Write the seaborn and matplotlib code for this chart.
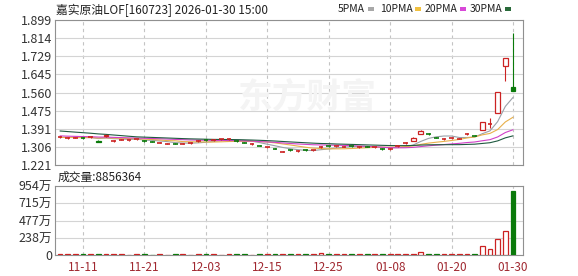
import numpy as np
import pandas as pd
import matplotlib
matplotlib.use("Agg")
import matplotlib.pyplot as plt
from matplotlib.patches import Rectangle
import seaborn as sns

# ---------------- data ----------------
title = "嘉实原油LOF[160723] 2026-01-30 15:00"
vol_title = "成交量:8856364"
tick_days = [3, 11, 19, 27, 35, 43, 51, 59]
tick_labels = ["11-11", "11-21", "12-03", "12-15", "12-25", "01-08", "01-20", "01-30"]
price_ticks = [1.221, 1.30575, 1.3905, 1.47525, 1.560, 1.64475, 1.7295, 1.81425, 1.899]
price_tick_labels = ["1.221", "1.306", "1.391", "1.475", "1.560", "1.645", "1.729", "1.814", "1.899"]
vol_ticks = [0, 2385000, 4770000, 7155000, 9540000]
vol_tick_labels = ["0", "238万", "477万", "715万", "954万"]

prior_closes = [1.430, 1.428, 1.425, 1.427, 1.424, 1.426, 1.423, 1.425, 1.427, 1.425,
                1.372, 1.368, 1.366, 1.363, 1.362, 1.364, 1.361, 1.360, 1.362, 1.362,
                1.352, 1.350, 1.349, 1.351, 1.350, 1.348, 1.350, 1.349, 1.351]

opens = [1.349, 1.346, 1.347, 1.348, 1.349, 1.333, 1.355, 1.331, 1.338, 1.336,
         1.340, 1.334, 1.331, 1.324, 1.320, 1.322, 1.320, 1.323, 1.332, 1.338,
         1.336, 1.340, 1.341, 1.334, 1.326, 1.318, 1.312, 1.303, 1.298, 1.282,
         1.292, 1.284, 1.292, 1.289, 1.302, 1.309, 1.308, 1.306, 1.310, 1.304,
         1.307, 1.302, 1.298, 1.293, 1.307, 1.321, 1.333, 1.366, 1.368, 1.349,
         1.341, 1.345, 1.343, 1.364, 1.359, 1.385, 1.411, 1.464, 1.684, 1.585]
closes = [1.352, 1.347, 1.349, 1.346, 1.352, 1.329, 1.360, 1.333, 1.340, 1.338,
          1.342, 1.332, 1.329, 1.326, 1.322, 1.320, 1.322, 1.325, 1.334, 1.336,
          1.338, 1.342, 1.343, 1.332, 1.324, 1.320, 1.310, 1.305, 1.296, 1.285,
          1.290, 1.287, 1.290, 1.291, 1.305, 1.307, 1.310, 1.308, 1.308, 1.306,
          1.305, 1.304, 1.296, 1.296, 1.310, 1.324, 1.347, 1.380, 1.366, 1.347,
          1.343, 1.347, 1.345, 1.366, 1.357, 1.422, 1.413, 1.562, 1.721, 1.567]
highs = [1.355, 1.350, 1.351, 1.350, 1.356, 1.336, 1.363, 1.336, 1.342, 1.340,
         1.344, 1.336, 1.333, 1.328, 1.324, 1.324, 1.324, 1.327, 1.336, 1.340,
         1.340, 1.344, 1.346, 1.336, 1.328, 1.322, 1.314, 1.307, 1.300, 1.288,
         1.294, 1.292, 1.294, 1.293, 1.308, 1.311, 1.312, 1.310, 1.312, 1.308,
         1.309, 1.306, 1.300, 1.300, 1.313, 1.330, 1.350, 1.383, 1.372, 1.351,
         1.345, 1.349, 1.347, 1.369, 1.361, 1.424, 1.440, 1.564, 1.723, 1.838]
lows = [1.347, 1.344, 1.345, 1.344, 1.347, 1.327, 1.352, 1.329, 1.336, 1.334,
        1.338, 1.330, 1.327, 1.322, 1.318, 1.318, 1.318, 1.321, 1.330, 1.334,
        1.334, 1.338, 1.339, 1.330, 1.322, 1.316, 1.308, 1.301, 1.294, 1.280,
        1.288, 1.282, 1.288, 1.287, 1.300, 1.305, 1.306, 1.304, 1.306, 1.302,
        1.303, 1.300, 1.293, 1.290, 1.305, 1.318, 1.331, 1.364, 1.362, 1.345,
        1.339, 1.343, 1.341, 1.362, 1.355, 1.383, 1.392, 1.462, 1.614, 1.565]
volumes = [8, 7, 8, 9, 10, 16, 18, 8, 7, 6,
           7, 8, 6, 7, 6, 7, 8, 6, 7, 8,
           7, 6, 7, 8, 7, 6, 7, 8, 7, 8,
           9, 8, 7, 8, 28, 14, 9, 8, 7, 12,
           14, 8, 7, 8, 15, 16, 14, 42, 14, 8,
           7, 7, 8, 12, 18, 126, 84, 224, 337, 885.6364]  # 万

ma_specs = [("5PMA", 5, "#9aa0a8", "#a8a8a8"),
            ("10PMA", 10, "#e8b04a", "#f0c040"),
            ("20PMA", 20, "#d040c8", "#d848d8"),
            ("30PMA", 30, "#1f5a40", "#2a6a3a")]

RED = "#cc2222"
GREEN = "#0a7a0a"

# ---------------- build ----------------
n = len(closes)
days = np.arange(n)
df = pd.DataFrame({"day": days, "open": opens, "close": closes,
                   "high": highs, "low": lows, "vol": np.array(volumes) * 1e4})
allc = pd.Series(prior_closes + closes)
for name, w, col, _ in ma_specs:
    df[name] = allc.rolling(w, min_periods=1).mean().iloc[len(prior_closes):].values

sns.set_theme(style="white")
plt.rcParams["font.family"] = ["Noto Sans CJK SC", "DejaVu Sans"]

W, H = 578, 276
fig = plt.figure(figsize=(W / 100, H / 100), dpi=100)


def fx(p):
    return p / W


def fy(p):
    return 1 - p / H


ax = fig.add_axes([fx(55), fy(165), fx(523) - fx(55), fy(20) - fy(165)])
axv = fig.add_axes([fx(55), fy(255), fx(523) - fx(55), fy(186) - fy(255)])

xlim = (-0.65, n + 0.3)
edge = "#909090"
for a in (ax, axv):
    a.set_xlim(*xlim)
    for s in a.spines.values():
        s.set_color(edge)
        s.set_linewidth(0.8)
        s.set_visible(True)
    a.set_axisbelow(True)
    a.set_xticks(tick_days)
    a.grid(axis="y", color="#d4d4d4", linewidth=0.8, linestyle="-")
    a.grid(axis="x", color="#c4c4c4", linewidth=0.8, linestyle=(0, (3, 3)))
    a.tick_params(length=0, labelsize=9, colors="#333333", pad=2)

# watermark
ax.text(fx(238), fy(97), "东方财富", transform=fig.transFigure, fontsize=25,
        fontweight="bold", color="#f4f4f4", va="center", ha="left", zorder=0.6)

# moving averages
for name, w, col, _ in ma_specs:
    sns.lineplot(data=df, x="day", y=name, ax=ax, color=col, linewidth=0.8,
                 legend=False, zorder=2)

# candles
bw = 0.62
for r in df.itertuples():
    up = r.close >= r.open
    col = RED if up else GREEN
    lo, hi = min(r.open, r.close), max(r.open, r.close)
    if hi - lo < 0.004:
        ax.vlines(r.day, r.low, r.high, color=col, linewidth=0.8, zorder=3)
        ax.hlines((r.open + r.close) / 2, r.day - bw / 2, r.day + bw / 2,
                  color=col, linewidth=1.2, zorder=4)
    else:
        ax.vlines(r.day, r.low, lo, color=col, linewidth=0.8, zorder=3)
        ax.vlines(r.day, hi, r.high, color=col, linewidth=0.8, zorder=3)
        ax.bar(r.day, hi - lo, bottom=lo, width=bw,
               facecolor="white" if up else col, edgecolor=col,
               linewidth=0.9, zorder=4)

ax.set_ylim(price_ticks[0], price_ticks[-1])
ax.set_yticks(price_ticks)
ax.set_yticklabels(price_tick_labels)
ax.set_xticklabels([])
ax.set_xlabel("")
ax.set_ylabel("")

# volume
for r in df.itertuples():
    up = r.close >= r.open
    col = RED if up else GREEN
    big = r.vol > 250000
    axv.bar(r.day, r.vol, width=bw,
            facecolor=("white" if (up and big) else col), edgecolor=col,
            linewidth=0.9, zorder=3)
axv.set_ylim(vol_ticks[0], vol_ticks[-1])
axv.set_yticks(vol_ticks)
axv.set_yticklabels(vol_tick_labels)
axv.set_xticklabels(tick_labels)
axv.tick_params(axis="x", colors="#a02830", labelsize=8.5, pad=4)
axv.set_xlabel("")
axv.set_ylabel("")

# texts
fig.text(fx(56), fy(10), title, fontsize=8.5, color="#222222", va="center", ha="left")
fig.text(fx(58), fy(177), vol_title, fontsize=8.5, color="#222222", va="center", ha="left")

# legend: text followed by a small colour swatch
fig.canvas.draw()
renderer = fig.canvas.get_renderer()
leg_x = [338, 380, 425, 470]
for (name, w, col, lcol), tx in zip(ma_specs, leg_x):
    t = fig.text(fx(tx), fy(9), name, fontsize=7.5, color="#222222",
                 va="center", ha="left")
    bb = t.get_window_extent(renderer=renderer)
    rx = bb.x1 + 2.5
    fig.patches.append(Rectangle((rx / W, fy(10.5)), 6 / W, 3 / H,
                                 transform=fig.transFigure, facecolor=lcol,
                                 edgecolor="none"))

fig.savefig("out.png", dpi=100, facecolor="white")
